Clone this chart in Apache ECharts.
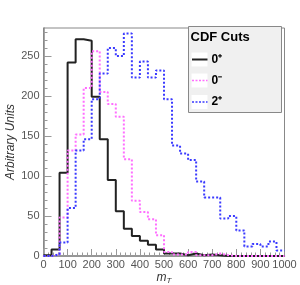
<!DOCTYPE html>
<html><head><meta charset="utf-8">
<script src="https://cdn.jsdelivr.net/npm/echarts@6/dist/echarts.min.js"></script>
<style>html,body{margin:0;padding:0;background:#fff}#c{width:300px;height:285px}</style>
</head><body><div id="c"></div>
<script>
// Histogram: 30 bins from 0 to 1000 in m_T
var xMin = 0, xMax = 1000, nBins = 30;
var seriesNames = ['0\u207A', '0\u207B', '2\u207A'];
var legendTitle = 'CDF Cuts';
var cuts0plus  = [1, 8, 104, 242, 271, 269, 199, 146, 95, 56, 34, 25, 19, 14, 8, 3, 3, 1, 3, 1, 2, 1, 0, 0, 0, 0, 0, 0, 0, 0];
var cuts0minus = [0, 2, 48, 132, 152, 210, 256, 205, 190, 174, 121, 69, 55, 46, 26, 5, 2, 2, 5, 1, 1, 3, 1, 0, 0, 0, 0, 0, 0, 0];
var cuts2plus  = [0, 2, 17, 60, 132, 146, 196, 228, 260, 250, 278, 223, 243, 223, 232, 196, 138, 128, 120, 93, 73, 73, 47, 50, 32, 12, 15, 12, 18, 7];
var xTicks = [0, 100, 200, 300, 400, 500, 600, 700, 800, 900, 1000];
var yTicks = [0, 50, 100, 150, 200, 250];
var yMinorTicks = [10, 20, 30, 40, 60, 70, 80, 90, 110, 120, 130, 140, 160, 170, 180, 190, 210, 220, 230, 240, 260, 270, 280];
var yMax = 285;

function stepData(vals) {
  var w = (xMax - xMin) / nBins, out = [];
  for (var i = 0; i < vals.length; i++) out.push([xMin + i * w, vals[i]]);
  out.push([xMax, vals[vals.length - 1]]);
  return out;
}
var FONT = 'Liberation Sans, Arial, Helvetica, sans-serif';
var chart = echarts.init(document.getElementById('c'), null, {renderer: 'canvas'});
var colors = ['#222222', '#ff6eff', '#3a3aff'];
var lineTypes = ['solid', 'dotted', 'dotted'];
var datas = [cuts0plus, cuts0minus, cuts2plus];
var series = datas.map(function (d, i) {
  return {
    name: seriesNames[i], type: 'line', step: 'end', data: stepData(d),
    yAxisIndex: 0, symbol: 'none', showSymbol: false, animation: false,
    lineStyle: {color: colors[i], width: 2, type: lineTypes[i]},
    itemStyle: {color: colors[i]}, z: 2 + i * 0.1
  };
});
// legend drawn as graphic elements (box, title, samples, labels)
var legendX = 188.5, legendY = 26.5, legendRowY = [59.5, 80.5, 102];
var graphics = [
  {type: 'rect', shape: {x: legendX, y: legendY, width: 93, height: 86}, style: {fill: '#f0f0f0', stroke: '#888', lineWidth: 1}, z: 4, silent: true},
  {type: 'text', x: 190.5, y: 37.5, style: {text: legendTitle, fill: '#000', font: 'bold 13px ' + FONT, textVerticalAlign: 'middle'}, z: 6, silent: true}
];
seriesNames.forEach(function (n, i) {
  var cy = legendRowY[i];
  graphics.push({type: 'rect', shape: {x: 191.5, y: cy - 7, width: 16, height: 14}, style: {fill: '#fff'}, z: 5, silent: true});
  graphics.push({type: 'line', shape: {x1: 192, y1: cy, x2: 207.5, y2: cy}, style: {stroke: colors[i], lineWidth: i === 0 ? 2 : 1.5, lineDash: i === 0 ? null : [2, 1.5]}, z: 6, silent: true});
  graphics.push({type: 'text', x: 211.5, y: cy, style: {text: n, fill: '#000', font: 'bold 12px ' + FONT, textVerticalAlign: 'middle'}, z: 6, silent: true});
});
chart.setOption({
  animation: false,
  textStyle: {fontFamily: FONT},
  grid: {left: 43.5, right: 15.5, top: 28, bottom: 29, containLabel: false, outerBoundsMode: 'none', show: true, borderColor: '#888', borderWidth: 1, backgroundColor: 'transparent'},
  graphic: graphics,
  xAxis: {
    type: 'value', min: xMin, max: xMax, interval: 100,
    name: '{m|m}{t|T}', nameLocation: 'middle', nameGap: 14, nameMoveOverlap: false,
    nameTextStyle: {rich: {m: {fontSize: 12, fontStyle: 'italic', color: '#333', fontFamily: FONT}, t: {fontSize: 8, fontStyle: 'italic', color: '#333', fontFamily: FONT, padding: [7, 0, 0, 0]}}},
    axisLine: {lineStyle: {color: '#888', width: 1.5}},
    axisTick: {inside: true, length: 7, lineStyle: {color: '#999'}},
    minorTick: {show: true, splitNumber: 5, length: 3.5, lineStyle: {color: '#999'}},
    splitLine: {show: false},
    axisLabel: {color: '#555', fontSize: 11, margin: 3, fontFamily: FONT, formatter: function (v) { return String(v); }}
  },
  yAxis: [{
    type: 'value', min: 0, max: yMax,
    name: 'Arbitrary Units', nameLocation: 'middle', nameGap: 27, nameMoveOverlap: false,
    nameTextStyle: {fontSize: 12, fontStyle: 'italic', color: '#333', fontFamily: FONT},
    axisLine: {show: true, lineStyle: {color: '#888', width: 1.5}},
    axisTick: {show: true, inside: true, length: 8, lineStyle: {color: '#999'}, customValues: yTicks},
    splitLine: {show: false},
    axisLabel: {color: '#555', fontSize: 11, margin: 4, fontFamily: FONT, customValues: yTicks}
  }, {
    type: 'value', min: 0, max: yMax, position: 'left',
    axisLine: {show: false}, axisLabel: {show: false}, splitLine: {show: false},
    axisTick: {show: true, inside: true, length: 4, lineStyle: {color: '#999'}, customValues: yMinorTicks}
  }],
  series: series
});
</script></body></html>
